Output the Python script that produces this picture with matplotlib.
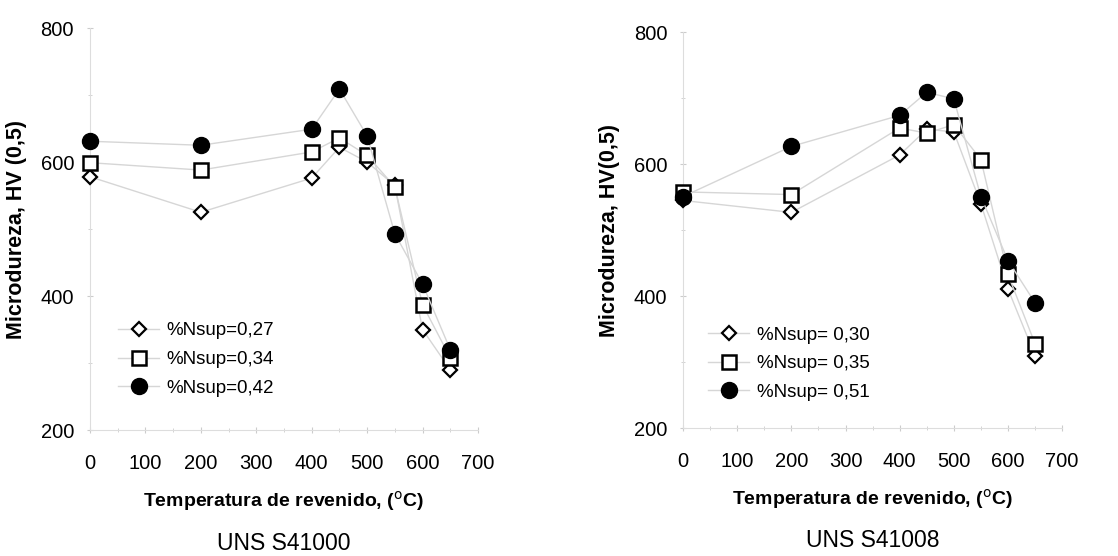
import matplotlib
matplotlib.use('Agg')
import matplotlib.pyplot as plt
from matplotlib.ticker import MultipleLocator

plt.rcParams['font.family'] = ['Liberation Sans', 'DejaVu Sans']

temp = [0, 200, 400, 450, 500, 550, 600, 650]

# UNS S41000
s1_n027 = [578, 525, 576, 622, 600, 565, 350, 290]
s1_n034 = [599, 588, 615, 636, 610, 563, 387, 308]
s1_n042 = [631, 625, 649, 709, 639, 493, 418, 320]
s1_labels = ['%Nsup=0,27', '%Nsup=0,34', '%Nsup=0,42']

# UNS S41008
s2_n030 = [545, 527, 614, 653, 649, 540, 411, 310]
s2_n035 = [558, 554, 655, 647, 660, 607, 433, 328]
s2_n051 = [551, 627, 674, 709, 699, 551, 454, 390]
s2_labels = ['%Nsup= 0,30', '%Nsup= 0,35', '%Nsup= 0,51']

fig = plt.figure(figsize=(11.18, 5.56), dpi=100)
ax1 = fig.add_axes([0.0805, 0.2266, 0.347, 0.723])
ax2 = fig.add_axes([0.611, 0.230, 0.339, 0.712])

line_col = '#d6d6d6'
styles = [dict(marker='D', markersize=7, markerfacecolor='white', markeredgecolor='black', markeredgewidth=1.6),
          dict(marker='s', markersize=9.5, markerfacecolor='white', markeredgecolor='black', markeredgewidth=1.8),
          dict(marker='o', markersize=11.5, markerfacecolor='black', markeredgecolor='black')]


def draw(ax, series, labels, ylab, title, legpos):
    for vals, lab, st in zip(series, labels, styles):
        ax.plot(temp, vals, color=line_col, lw=1.0, label=lab, clip_on=False, zorder=3, **st)
    ax.set_xlim(0, 700)
    ax.set_ylim(200, 800)
    ax.xaxis.set_major_locator(MultipleLocator(100))
    ax.xaxis.set_minor_locator(MultipleLocator(50))
    ax.yaxis.set_major_locator(MultipleLocator(200))
    ax.yaxis.set_minor_locator(MultipleLocator(100))
    for s in ['top', 'right']:
        ax.spines[s].set_visible(False)
    for s in ['left', 'bottom']:
        ax.spines[s].set_color('#dddddd')
        ax.spines[s].set_linewidth(0.8)
    ax.tick_params(which='both', direction='inout', color='#cccccc', labelsize=14.5)
    ax.tick_params(axis='x', pad=15)
    ax.tick_params(axis='y', pad=9)
    ax.tick_params(which='major', length=5)
    ax.tick_params(which='minor', length=3)
    ax.set_xlabel('Temperatura de revenido, ($^{\\mathrm{o}}$C)', fontsize=14, fontweight='bold', labelpad=11)
    ax.set_ylabel(ylab, fontsize=15.5, fontweight='bold', labelpad=10)
    ax.text(0.5, -0.283, title, transform=ax.transAxes, ha='center', va='center', fontsize=16.5)
    ax.legend(loc='upper left', bbox_to_anchor=legpos, frameon=False, fontsize=13.5,
              handlelength=2.2, labelspacing=0.62, handletextpad=0.4, borderpad=0, borderaxespad=0)


draw(ax1, [s1_n027, s1_n034, s1_n042], s1_labels, 'Microdureza, HV (0,5)', 'UNS S41000', (0.072, 0.268))
draw(ax2, [s2_n030, s2_n035, s2_n051], s2_labels, 'Microdureza, HV(0,5)', 'UNS S41008', (0.066, 0.257))

fig.savefig('out.png', dpi=100)
